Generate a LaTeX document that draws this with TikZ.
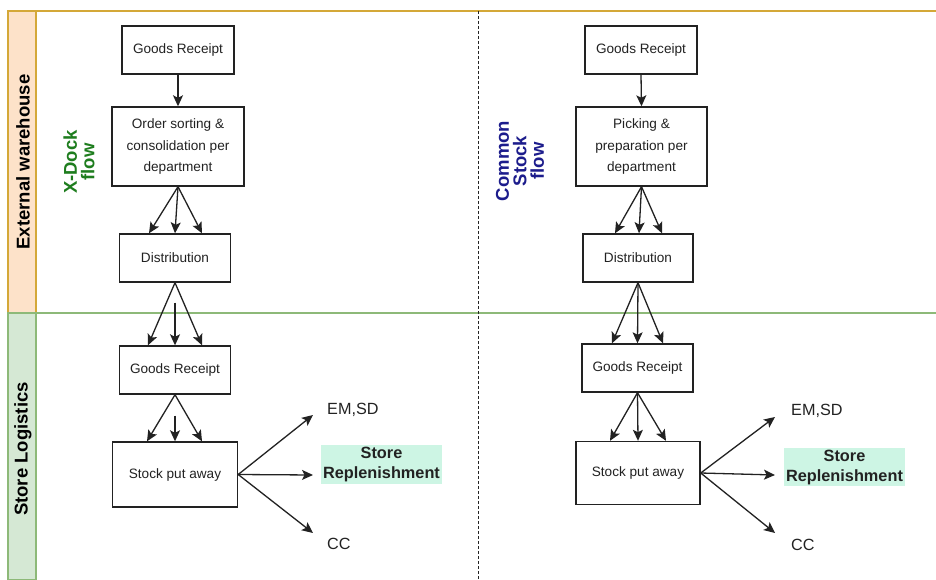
\documentclass[tikz,border=0pt]{standalone}
\usepackage{fontspec}
\setmainfont{Liberation Sans}
\usetikzlibrary{arrows.meta}
\definecolor{goldline}{HTML}{D4A838}
\definecolor{peach}{HTML}{FDE2C9}
\definecolor{sage}{HTML}{D5E8D4}
\definecolor{sageline}{HTML}{8DB978}
\definecolor{mint}{HTML}{CDF5E4}
\definecolor{xdock}{HTML}{1E7D1E}
\definecolor{navyflow}{HTML}{1C1C8C}
\definecolor{ink}{HTML}{222222}
\tikzset{
  stepbox/.style={draw=ink, line width=1.4pt, fill=white, rectangle, inner sep=0pt,
    align=center, text=ink, font=\fontsize{13.6}{21.5}\selectfont},
  flowarrow/.style={draw=ink, line width=1.3pt, -{Stealth[length=11pt,width=10pt,inset=2.5pt]}},
  lanetitle/.style={rotate=90, font=\fontsize{18.5}{20}\selectfont\bfseries, text=black},
  flowtitle/.style={rotate=90, align=center, font=\fontsize{18.5}{17.5}\selectfont\bfseries},
  outlabel/.style={anchor=west, inner sep=0pt, text=ink, font=\fontsize{16.2}{19}\selectfont},
  replen/.style={fill=mint, inner sep=2pt, align=center, text=ink,
    font=\fontsize{16.3}{20}\selectfont\bfseries}
}
\begin{document}
\begin{tikzpicture}[x=1pt,y=-1pt]
\useasboundingbox (0,0) rectangle (936,580);
\fill[white] (0,0) rectangle (936,580);

% swimlane headers and separators
\draw[goldline, line width=1.2pt, fill=peach] (8,11) rectangle (36,313);
\draw[sageline, line width=1.2pt, fill=sage] (8,313) rectangle (36,580);
\draw[goldline, line width=1.4pt] (36,11) -- (936,11);
\draw[sageline, line width=1.2pt] (36,313) -- (936,313);
\draw[ink, line width=0.9pt, dash pattern=on 3pt off 2pt] (478,11) -- (478,580);

\node[lanetitle] (laneA) at (23,162) {External warehouse};
\node[lanetitle] (laneB) at (23,449) {Store Logistics};

\node[flowtitle, text=xdock] (xflow) at (79,162) {X-Dock\\flow};
\node[flowtitle, text=navyflow] (cflow) at (520,161) {Common\\Stock\\flow};

% X-Dock flow
\node[stepbox, minimum width=112pt, minimum height=48pt] (gr1) at (178,50) {Goods Receipt};
\node[stepbox, minimum width=132pt, minimum height=79pt] (os1) at (178,146.5) {Order sorting \&\\consolidation per\\department};
\node[stepbox, minimum width=111pt, minimum height=48pt] (di1) at (175,258) {Distribution};
\node[stepbox, minimum width=111pt, minimum height=48pt] (gs1) at (175,370) {Goods Receipt};
\node[stepbox, minimum width=125pt, minimum height=65pt] (sp1) at (175,474.5) {Stock put away};

\draw[flowarrow] (gr1.south) -- (os1.north);
\draw[flowarrow] (os1.south) -- ([xshift=-26pt]di1.north);
\draw[flowarrow] (os1.south) -- (di1.north);
\draw[flowarrow] (os1.south) -- ([xshift=27pt]di1.north);
\draw[flowarrow] (di1.south) -- ([xshift=-27pt]gs1.north);
\draw[flowarrow] ([yshift=-20pt]di1.south) -- (gs1.north);
\draw[flowarrow] (di1.south) -- ([xshift=27pt]gs1.north);
\draw[flowarrow] (gs1.south) -- ([xshift=-28pt]sp1.north);
\draw[flowarrow] ([yshift=-21pt]gs1.south) -- (sp1.north);
\draw[flowarrow] (gs1.south) -- ([xshift=27pt]sp1.north);

\coordinate (up1) at (313,415);
\coordinate (mid1) at (313,475);
\coordinate (low1) at (313,533);
\draw[flowarrow] (sp1.east) -- (up1);
\draw[flowarrow] (sp1.east) -- (mid1);
\draw[flowarrow] (sp1.east) -- (low1);
\node[outlabel] (em1) at (327,410) {EM,SD};
\node[replen] (sr1) at (381.5,464.5) {Store\\Replenishment};
\node[outlabel] (cc1) at (327,544) {CC};

% Common Stock flow
\node[stepbox, minimum width=112pt, minimum height=48pt] (gr2) at (641,50) {Goods Receipt};
\node[stepbox, minimum width=131pt, minimum height=79pt] (pk2) at (641.5,146.5) {Picking \&\\preparation per\\department};
\node[stepbox, minimum width=110pt, minimum height=48pt] (di2) at (638,258) {Distribution};
\node[stepbox, minimum width=111pt, minimum height=48pt] (gs2) at (637.5,368) {Goods Receipt};
\node[stepbox, minimum width=124pt, minimum height=63pt] (sp2) at (638,473) {Stock put away};

\draw[flowarrow] (gr2.south) -- (pk2.north);
\draw[flowarrow] (pk2.south) -- ([xshift=-23pt]di2.north);
\draw[flowarrow] (pk2.south) -- ([xshift=1pt]di2.north);
\draw[flowarrow] (pk2.south) -- ([xshift=24pt]di2.north);
\draw[flowarrow] (di2.south) -- ([xshift=-25.5pt]gs2.north);
\draw[flowarrow] (di2.south) -- (gs2.north);
\draw[flowarrow] (di2.south) -- ([xshift=25.5pt]gs2.north);
\draw[flowarrow] (gs2.south) -- ([xshift=-28pt]sp2.north);
\draw[flowarrow] (gs2.south) -- (sp2.north);
\draw[flowarrow] (gs2.south) -- ([xshift=28pt]sp2.north);

\coordinate (up2) at (775,417);
\coordinate (mid2) at (775,475);
\coordinate (low2) at (775,533);
\draw[flowarrow] (sp2.east) -- (up2);
\draw[flowarrow] (sp2.east) -- (mid2);
\draw[flowarrow] (sp2.east) -- (low2);
\node[outlabel] (em2) at (791,411) {EM,SD};
\node[replen] (sr2) at (844.5,467) {Store\\Replenishment};
\node[outlabel] (cc2) at (791,545) {CC};
\end{tikzpicture}
\end{document}
